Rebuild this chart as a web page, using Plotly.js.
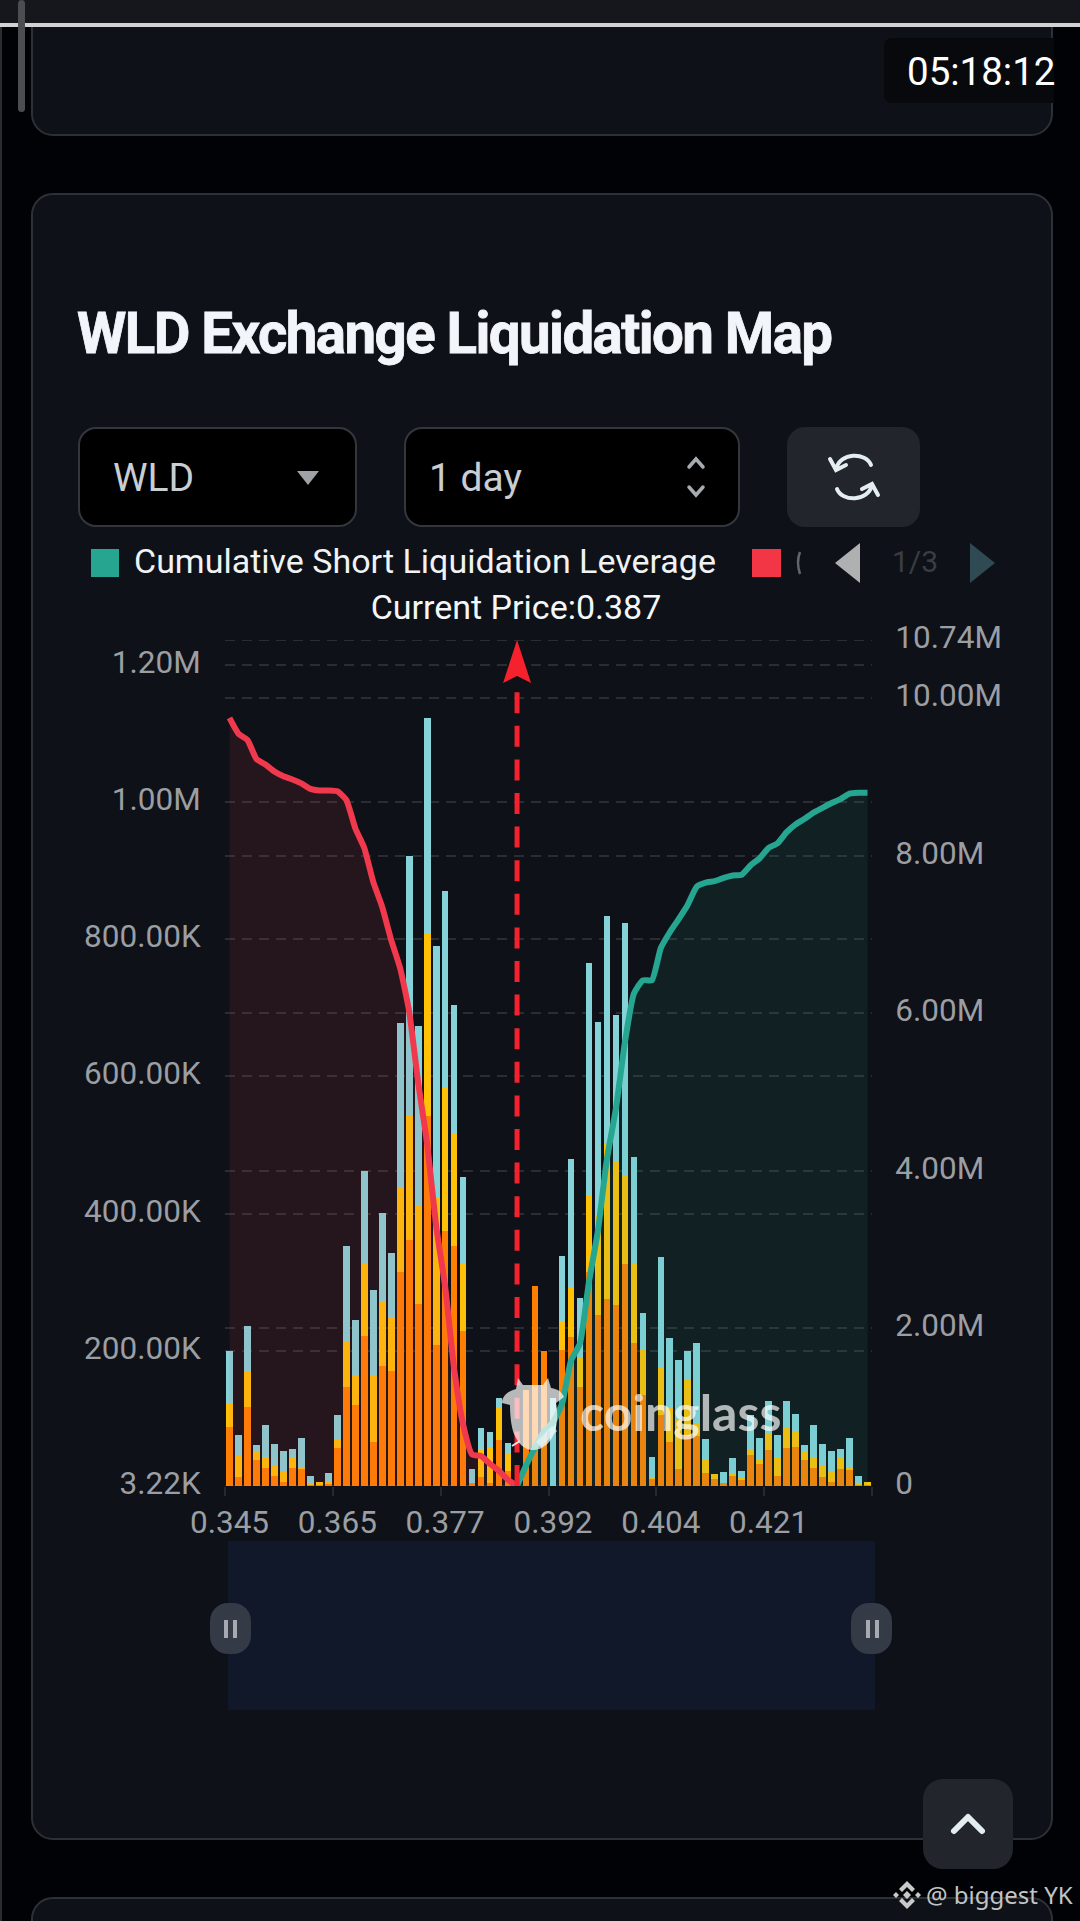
<!DOCTYPE html>
<html>
<head>
<meta charset="utf-8">
<script src="https://cdn.plot.ly/plotly-3.0.1.min.js"></script>
<style>
html, body { margin: 0; padding: 0; width: 1080px; height: 1921px; overflow: hidden; background: #000205; font-family: Roboto, sans-serif; }
.box { position: absolute; box-sizing: border-box; }
.txt { position: absolute; white-space: nowrap; line-height: 1; }
.card { background: #0e1117; border: 2px solid #2c3138; border-radius: 22px; }
.pick { background: #000; border: 2px solid #33373d; border-radius: 18px; }
.grey { background: #22252b; border-radius: 18px; }
#plot { position: absolute; left: 0; top: 0; width: 1080px; height: 1921px; z-index: 1; }
#over { position: absolute; left: 0; top: 0; z-index: 2; pointer-events: none; }
</style>
</head>
<body>
<!-- page furniture, the chart itself is in #plot -->
<div class="box card" style="left:31px;top:-40px;width:1022px;height:176px"></div>
<div class="box" style="left:0;top:0;width:1080px;height:23px;background:#15171c"></div>
<div class="box" style="left:0;top:23px;width:1080px;height:4px;background:#d2d2d2"></div>
<div class="box" style="left:0;top:27px;width:2px;height:1894px;background:#2a2c30"></div>
<div class="box" style="left:18px;top:0;width:7px;height:112px;border-radius:4px;background:#4a4d52"></div>
<div class="box" style="left:884px;top:38px;width:170px;height:65px;background:#08090c;border-radius:8px 0 0 8px"></div>
<div class="txt" style="left:907px;top:53px;font-size:38.5px;color:#fff">05:18:12</div>

<div class="box card" style="left:31px;top:193px;width:1022px;height:1647px"></div>
<div class="box card" style="left:31px;top:1897px;width:1022px;height:80px"></div>
<div class="txt" style="left:77px;top:305px;font-size:57px;font-weight:700;color:#f2f5fa;letter-spacing:-1.6px;-webkit-text-stroke:0.8px #f2f5fa;transform-origin:0 50%;transform:scaleX(0.99)">WLD Exchange Liquidation Map</div>

<div class="box pick" style="left:78px;top:427px;width:279px;height:100px"></div>
<div class="txt" style="left:113px;top:459px;font-size:39px;color:#c9ced3">WLD</div>
<div class="box pick" style="left:404px;top:427px;width:336px;height:100px"></div>
<div class="txt" style="left:429px;top:459px;font-size:39px;color:#c9ced3">1 day</div>
<div class="box grey" style="left:787px;top:427px;width:133px;height:100px"></div>

<div class="box" style="left:91px;top:549px;width:28px;height:28px;background:#26a691"></div>
<div class="txt" style="left:134px;top:544px;font-size:34px;color:#f0f2f4">Cumulative Short Liquidation Leverage</div>
<div class="box" style="left:752px;top:549px;width:29px;height:28px;background:#f23645"></div>
<div class="txt" style="left:892px;top:547px;font-size:30px;color:#3a3d42">1/3</div>

<div class="box" style="left:228px;top:1541px;width:647px;height:169px;background:#111829"></div>
<div class="box" style="left:210px;top:1603px;width:41px;height:51px;border-radius:18px;background:#343a46"></div>
<div class="box" style="left:851px;top:1603px;width:41px;height:51px;border-radius:18px;background:#343a46"></div>
<div class="box" style="left:224px;top:1620px;width:4px;height:18px;background:#a6a9af"></div>
<div class="box" style="left:233px;top:1620px;width:4px;height:18px;background:#a6a9af"></div>
<div class="box" style="left:866px;top:1620px;width:4px;height:18px;background:#a6a9af"></div>
<div class="box" style="left:875px;top:1620px;width:4px;height:18px;background:#a6a9af"></div>

<div id="plot"></div>

<svg id="over" width="1080" height="1921">
  <!-- sliver of the next legend entry, scrolled out of view -->
  <path d="M800 552Q796 562 800 574" fill="none" stroke="#63666b" stroke-width="2.5"/>
  <!-- dropdown and pager glyphs -->
  <path d="M297 471H319L308 485Z" fill="#9ea2a6"/>
  <path d="M689 467L696 459L703 467M689 487L696 495L703 487" fill="none" stroke="#a8acb0" stroke-width="3.5" stroke-linecap="round"/>
  <path d="M836 469C840 452 866 452 871 465M872 485C868 502 842 502 837 489M830 459L836 470L846 465M878 495L872 484L862 489" fill="none" stroke="#e4eef0" stroke-width="4" stroke-linecap="round"/>
  <path d="M860 543V583L835 563Z" fill="#aeb0b2"/>
  <path d="M970 543V583L995 563Z" fill="#2f4a52"/>
  <!-- coinglass mark, see-through like the wordmark -->
  <path d="M518 1378L523 1385H543L548 1378L551 1388C558 1389 562 1392 564 1397L556 1403C558 1412 558 1426 553 1436C549 1444 542 1450 533 1450C524 1450 518 1443 514 1434C511 1426 510 1414 510 1405L502 1403C502 1396 508 1391 516 1389Z" fill="#ffffff" fill-opacity="0.7"/>
  <path d="M536 1442L552 1426L557 1431L541 1447Z" fill="#dff4f8" fill-opacity="0.75"/>
  <path d="M512 1446L520 1441" stroke="#e8e8e8" stroke-width="2" fill="none"/>
  <!-- back to top button and reposter tag -->
  <rect x="923" y="1779" width="90" height="90" rx="20" fill="#22252b"/>
  <path d="M954 1831L968 1817L982 1831" fill="none" stroke="#e4eef0" stroke-width="6" stroke-linecap="round" stroke-linejoin="round"/>
  <path d="M907 1881L915 1889L912 1892L907 1887L902 1892L899 1889ZM907 1909L915 1901L912 1898L907 1903L902 1898L899 1901ZM907 1891L911 1895L907 1899L903 1895ZM896 1892L899 1895L896 1898L893 1895ZM918 1892L921 1895L918 1898L915 1895Z" fill="#c9c9c9"/>
  <text x="926" y="1904" font-family="Noto Sans" font-size="24" fill="#c4c4c4">@ biggest YK</text>
</svg>

<script>
// segment heights per price bucket, thousands
var orangeK = [88.7,16.6,118.4,40.4,29.2,18.1,8.4,29.2,27.7,5.4,4.7,6.2,59,148.2,121.4,221.8,67.9,178.7,171.2,314.7,362.3,268.6,543,209.1,375,352.6,228.5,6.9,16.6,6.9,70.1,24.8,3.9,143,294.7,199.5,3.2,201.7,221,147.4,315.5,253,275.3,267.1,326.6,211.4,135.5,13.6,107.3,67.9,27.7,76.1,76.1,21.8,13.6,6.9,18.1,12.1,47.8,35.2,55.2,18.1,59,60.4,40.4,29.2,16.6,9.1,27.7,27,5.4,4.7];
var yellowK = [34.9,29.7,52,13.4,16.4,14.9,15.6,15.6,2.2,1.5,4.5,2.2,13.4,66.2,43.1,105.6,97.4,93.7,78.8,122.7,180.7,144.2,266.2,214.1,208.2,165.1,100.4,0.7,40.1,51.3,46.1,26,0,0,0,0,0,42.4,72.1,43.1,110,144.2,226,210.4,130.1,117.5,66.9,1.5,68.4,49.8,72.1,81,17.8,18.6,7.4,0.7,3.7,3,8.2,7.4,24.5,27.5,28.3,23,12.6,15.6,15.6,14.9,16.4,2.2,1.5,3.7];
var cyanK = [76.6,31.2,65.4,8.9,46.1,31.2,29.7,11.9,43.1,10.4,0,14.1,34.9,138.3,80.3,134.6,124.2,128.6,92.9,240.9,378.4,261,313.8,366.5,287.7,186.6,124.2,20.1,31.2,23.8,15.6,14.9,0,0,0,0,128.6,93.7,185.9,86.2,339.8,282.5,332.3,211.9,366.5,153.9,53.5,30.5,160.6,101.1,87,43.1,118.2,31.2,0,15.6,21.6,9.7,51.3,31.2,47.6,32,40.1,25.3,9.7,46.8,32,29.7,12.6,43.9,10.4,0];

// cumulative lines, millions. red runs up to the current price bucket, green from it
var longCumM = [9.75,9.55,9.47,9.23,9.16,9.07,9.01,8.97,8.92,8.85,8.83,8.83,8.82,8.71,8.35,8.10,7.67,7.35,6.93,6.57,6.02,5.12,4.34,3.30,2.53,1.49,0.78,0.40,0.38,0.28,0.19,0.08,0];
var shortCumM = [0,0.26,0.49,0.69,0.81,1.04,1.59,1.81,2.59,3.24,4.15,4.79,5.63,6.25,6.42,6.42,6.83,7.03,7.20,7.38,7.61,7.66,7.68,7.72,7.75,7.76,7.88,7.97,8.10,8.16,8.30,8.40,8.47,8.55,8.61,8.67,8.72,8.79,8.80,8.80];

var priceLabels = ['0.345','0.365','0.377','0.392','0.404','0.421'];
var priceTicks = [0,12,24,36,48,60];
var leftTicks = [3.22,200,400,600,800,1000,1200];
var leftLabels = ['3.22K','200.00K','400.00K','600.00K','800.00K','1.00M','1.20M'];
var rightTicks = [0,2,4,6,8,10,10.74];
var rightLabels = ['0','2.00M','4.00M','6.00M','8.00M','10.00M','10.74M'];
var currentIndex = 32;

var labelColor = '#9b9ea3';
var gridColor = '#2a2d32';
var tickFont = {family: 'Roboto', size: 31.5, color: labelColor};

var idx = orangeK.map(function(v, i) { return i; });

function barTrace(vals, color) {
    return {type: 'bar', x: idx, y: vals, marker: {color: color, line: {width: 0}}, hoverinfo: 'skip'};
}

// gridline plotly leaves out at the edge of the range
function edgeLine(value) {
    return {
        type: 'line', xref: 'paper', yref: 'y2', x0: 0, x1: 1, y0: value, y1: value, layer: 'below',
        line: {color: gridColor, width: 2, dash: '10px,7px'}
    };
}

var traces = [
    barTrace(orangeK, '#ff8000'),
    barTrace(yellowK, '#ffc107'),
    barTrace(cyanK, '#85d3d8'),
    {
        x: idx.slice(0, longCumM.length), y: longCumM, yaxis: 'y2',
        mode: 'lines', line: {color: '#f0394c', width: 6, shape: 'spline', smoothing: 0.5},
        fill: 'tozeroy', fillcolor: 'rgba(246,70,93,0.10)'
    },
    {
        x: idx.slice(currentIndex), y: shortCumM, yaxis: 'y2',
        mode: 'lines', line: {color: '#26a691', width: 6, shape: 'spline', smoothing: 0.5},
        fill: 'tozeroy', fillcolor: 'rgba(38,166,145,0.10)'
    }
];

var layout = {
    width: 1080,
    height: 1921,
    paper_bgcolor: 'rgba(0,0,0,0)',
    plot_bgcolor: 'rgba(0,0,0,0)',
    showlegend: false,
    barmode: 'stack',
    bargap: 0.26,
    margin: {l: 224.5, r: 207.5, t: 640, b: 435, pad: 0},
    title: {
        text: 'Current Price:0.387', x: 516 / 1080, y: 1 - 607 / 1921,
        xanchor: 'center', yanchor: 'middle',
        font: {family: 'Roboto', size: 34, color: '#f4f6f8'}
    },
    xaxis: {
        range: [-0.5, 71.5],
        tickmode: 'array', tickvals: priceTicks, ticktext: priceLabels,
        tickfont: tickFont, ticks: 'outside', ticklen: 8, tickcolor: 'rgba(0,0,0,0)',
        showgrid: false, zeroline: false,
        minor: {tick0: -0.5, dtick: 12, ticks: 'outside', ticklen: 9, tickcolor: '#26292e', tickwidth: 2, showgrid: false}
    },
    yaxis: {
        range: [3.22, 1236],
        tickmode: 'array', tickvals: leftTicks, ticktext: leftLabels,
        tickfont: tickFont, ticks: 'outside', ticklen: 17, tickcolor: 'rgba(0,0,0,0)', ticklabelshift: -3,
        gridcolor: gridColor, gridwidth: 2, griddash: '10px,7px', zeroline: false
    },
    yaxis2: {
        overlaying: 'y', side: 'right', range: [0, 10.74],
        tickmode: 'array', tickvals: rightTicks, ticktext: rightLabels,
        tickfont: tickFont, ticks: 'outside', ticklen: 16, tickcolor: 'rgba(0,0,0,0)', ticklabelshift: -3,
        showgrid: true, gridcolor: gridColor, gridwidth: 2, griddash: '10px,7px', zeroline: false
    },
    shapes: [
        edgeLine(10.74),
        edgeLine(0),
        {
            type: 'line', xref: 'x', yref: 'y2', x0: currentIndex, x1: currentIndex, y0: 0, y1: 10.2,
            line: {color: '#f5222d', width: 5, dash: '21px,12.6px'}
        },
        {
            type: 'path', xref: 'x', yref: 'y2', xsizemode: 'pixel', ysizemode: 'pixel',
            xanchor: currentIndex, yanchor: 10.74,
            path: 'M 0 0 L 14 -43 L 0 -36 L -14 -43 Z',
            fillcolor: '#f5222d', line: {width: 0}
        }
    ],
    annotations: [{
        text: '<b>coinglass</b>', xref: 'paper', yref: 'paper',
        x: (681 - 224.5) / 648, y: (1486 - 1412) / 846,
        xanchor: 'center', yanchor: 'middle', showarrow: false,
        font: {family: 'Lato', size: 50, color: 'rgba(255,255,255,0.68)'}
    }]
};

Plotly.newPlot('plot', traces, layout, {staticPlot: true, displayModeBar: false});
</script>
</body>
</html>
